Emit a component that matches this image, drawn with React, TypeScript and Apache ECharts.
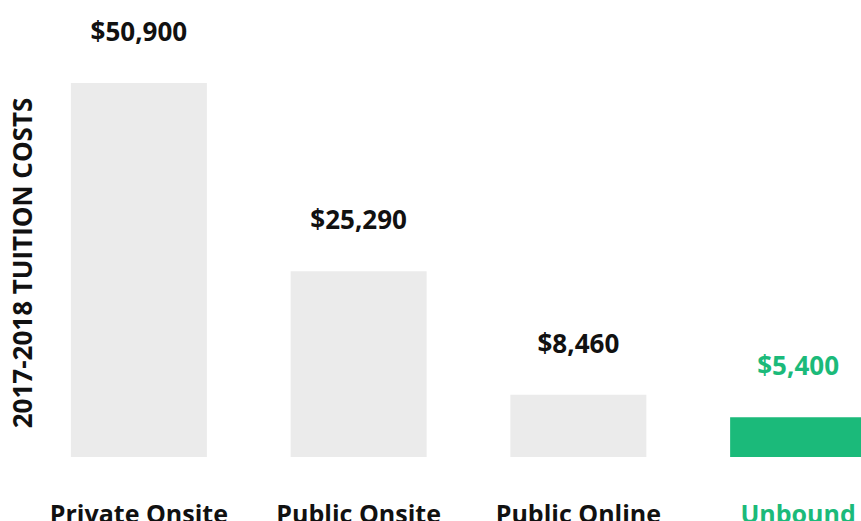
import React, { useEffect, useRef } from "react";
import * as echarts from "echarts";

const categories = ["Private Onsite", "Public Onsite", "Public Online", "Unbound"];
const values = [50900, 25290, 8460, 5400];
const highlight = [false, false, false, true];
const yTitle = "2017-2018 TUITION COSTS";

const GREEN = "#1BBA7A";
const GREY = "#EBEBEB";
const FONT = "'Open Sans', sans-serif";

export default function App() {
  const ref = useRef<HTMLDivElement>(null);
  useEffect(() => {
    if (!ref.current) return;
    const chart = echarts.init(ref.current, null, { renderer: "svg" });
    chart.setOption({
      animation: false,
      grid: {
        left: 29,
        right: 0,
        top: 83,
        bottom: 64,
        containLabel: false,
        outerBoundsMode: "none",
      },
      xAxis: {
        type: "category",
        data: categories,
        axisLine: { show: false },
        axisTick: { show: false },
        axisLabel: {
          interval: 0,
          hideOverlap: false,
          margin: 43,
          fontFamily: FONT,
          fontWeight: "bold",
          fontSize: 25,
          color: (v: string, i: number) => (highlight[i] ? GREEN : "#111"),
        },
      },
      yAxis: {
        type: "value",
        min: 0,
        max: 50900,
        show: false,
        splitLine: { show: false },
      },
      graphic: [
        {
          type: "text",
          x: 22,
          y: 263,
          rotation: Math.PI / 2,
          style: {
            text: yTitle,
            fontFamily: FONT,
            fontWeight: "bold",
            fontSize: 26,
            fill: "#111",
            align: "center",
            verticalAlign: "middle",
          },
        },
      ],
      series: [
        {
          type: "bar",
          barWidth: 136,
          data: values.map((v, i) => ({
            value: v,
            itemStyle: { color: highlight[i] ? GREEN : GREY },
            label: { color: highlight[i] ? GREEN : "#111" },
          })),
          label: {
            show: true,
            position: "top",
            distance: 39,
            fontFamily: FONT,
            fontWeight: "bold",
            fontSize: 26,
            formatter: (p: any) => "$" + p.value.toLocaleString("en-US"),
          },
        },
      ],
    });
    return () => chart.dispose();
  }, []);
  return (
    <div
      style={{
        position: "absolute",
        left: 0,
        top: 0,
        width: 861,
        height: 521,
        overflow: "hidden",
      }}
    >
      <div ref={ref} style={{ width: 908, height: 521 }} />
    </div>
  );
}
